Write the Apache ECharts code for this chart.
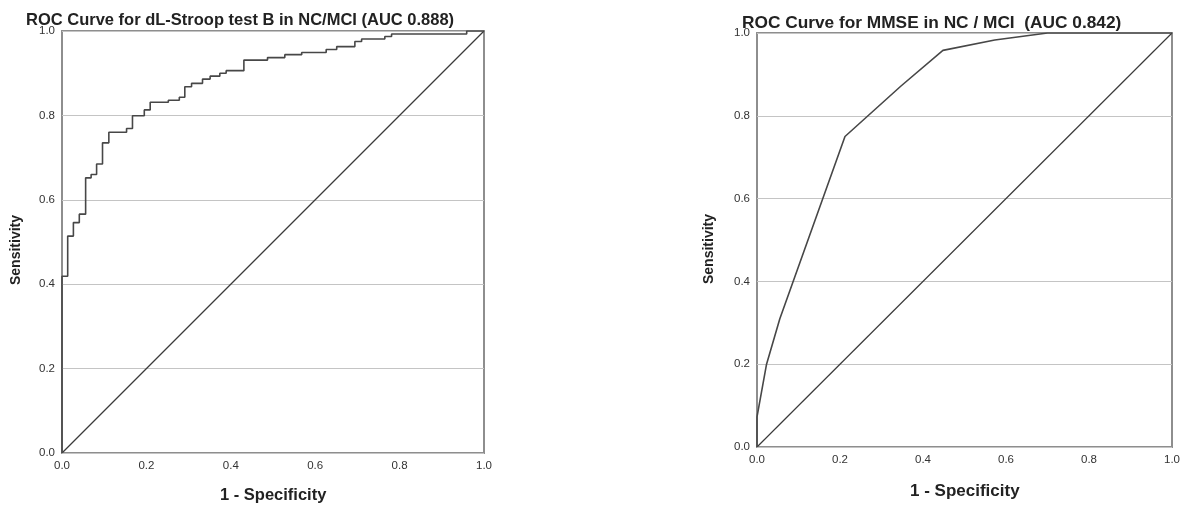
<!DOCTYPE html>
<html>
<head>
<meta charset="utf-8">
<script src="https://cdn.jsdelivr.net/npm/echarts@6/dist/echarts.min.js"></script>
<style>html,body{margin:0;padding:0;background:#fff}#c{width:1183px;height:507px}</style>
</head>
<body>
<div id="c"></div>
<script>
// Left ROC (dL-Stroop test B): step vertices (1-specificity, sensitivity after each rise)
const leftFpr = [0, 0, 0.0135, 0.027, 0.041, 0.056, 0.069, 0.082, 0.096, 0.111, 0.153, 0.167, 0.195, 0.209, 0.252, 0.278, 0.291, 0.307, 0.333, 0.351, 0.374, 0.389, 0.431, 0.487, 0.528, 0.568, 0.626, 0.651, 0.694, 0.710, 0.765, 0.781, 0.959, 1.0];
const leftTpr = [0, 0.419, 0.514, 0.546, 0.566, 0.652, 0.660, 0.685, 0.735, 0.760, 0.769, 0.799, 0.813, 0.831, 0.836, 0.843, 0.868, 0.876, 0.886, 0.893, 0.900, 0.906, 0.931, 0.937, 0.944, 0.949, 0.956, 0.963, 0.975, 0.981, 0.987, 0.993, 1.0, 1.0];
// Right ROC (MMSE)
const rightFpr = [0, 0, 0.023, 0.055, 0.212, 0.347, 0.448, 0.573, 0.700, 1.0];
const rightTpr = [0, 0.073, 0.200, 0.310, 0.750, 0.872, 0.958, 0.983, 1.0, 1.0];
const diagX = [0, 1];
const diagY = [0, 1];
const tickLabels = ['0.0', '0.2', '0.4', '0.6', '0.8', '1.0'];
const titles = ['ROC Curve for dL-Stroop test B in NC/MCI (AUC 0.888)', 'ROC Curve for MMSE in NC / MCI  (AUC 0.842)'];
const xName = '1 - Specificity';
const yName = 'Sensitivity';

function stepPoints(xs, ys) {
  const pts = [[xs[0], ys[0]]];
  for (let i = 1; i < xs.length; i++) {
    pts.push([xs[i], ys[i - 1]]);
    pts.push([xs[i], ys[i]]);
  }
  return pts;
}
function pairs(xs, ys) { return xs.map((x, i) => [x, ys[i]]); }

const FONT = 'Liberation Sans, Arial, sans-serif';
const chart = echarts.init(document.getElementById('c'), null, { renderer: 'canvas' });

function xAxis(gi) {
  return {
    gridIndex: gi, type: 'value', min: 0, max: 1, interval: 0.2,
    axisLine: { show: false }, axisTick: { show: false }, splitLine: { show: false },
    axisLabel: { color: '#333', fontSize: 11.5, fontFamily: FONT, margin: 7,
      formatter: v => tickLabels[Math.round(v * 5)] }
  };
}
function yAxis(gi) {
  return {
    gridIndex: gi, type: 'value', min: 0, max: 1, interval: 0.2,
    axisLine: { show: false }, axisTick: { show: false },
    splitLine: { show: true, lineStyle: { color: '#c4c4c4', width: 1.2 } },
    axisLabel: { color: '#333', fontSize: 11.5, fontFamily: FONT, margin: 7,
      formatter: v => tickLabels[Math.round(v * 5)] }
  };
}
const curveStyle = { color: '#474747', width: 1.6 };
const diagStyle = { color: '#3a3a3a', width: 1.2 };

chart.setOption({
  animation: false,
  backgroundColor: '#fff',
  title: [
    { text: titles[0], left: 21, top: 7, textStyle: { fontFamily: FONT, fontSize: 16.5, fontWeight: 'bold', color: '#222' } },
    { text: titles[1], left: 737, top: 10, textStyle: { fontFamily: FONT, fontSize: 17.3, fontWeight: 'bold', color: '#222' } }
  ],
  grid: [
    { left: 62, top: 31, width: 422, height: 422, show: true, borderColor: '#8e8e8e', borderWidth: 2, backgroundColor: 'transparent' },
    { left: 757, top: 33, width: 415, height: 414, show: true, borderColor: '#8e8e8e', borderWidth: 2, backgroundColor: 'transparent' }
  ],
  xAxis: [xAxis(0), xAxis(1)],
  yAxis: [yAxis(0), yAxis(1)],
  graphic: [
    { type: 'text', left: 220, top: 487, style: { text: xName, font: 'bold 16.5px ' + FONT, fill: '#222' } },
    { type: 'text', left: 910, top: 483, style: { text: xName, font: 'bold 17px ' + FONT, fill: '#222' } },
    { type: 'text', x: 9, y: 285, rotation: Math.PI / 2, style: { text: yName, font: 'bold 14px ' + FONT, fill: '#222' } },
    { type: 'text', x: 702, y: 284, rotation: Math.PI / 2, style: { text: yName, font: 'bold 14px ' + FONT, fill: '#222' } }
  ],
  series: [
    { type: 'line', xAxisIndex: 0, yAxisIndex: 0, data: pairs(diagX, diagY), showSymbol: false, lineStyle: diagStyle, silent: true },
    { type: 'line', xAxisIndex: 0, yAxisIndex: 0, data: stepPoints(leftFpr, leftTpr), showSymbol: false, lineStyle: curveStyle, silent: true },
    { type: 'line', xAxisIndex: 1, yAxisIndex: 1, data: pairs(diagX, diagY), showSymbol: false, lineStyle: diagStyle, silent: true },
    { type: 'line', xAxisIndex: 1, yAxisIndex: 1, data: pairs(rightFpr, rightTpr), showSymbol: false, lineStyle: curveStyle, silent: true }
  ]
});
</script>
</body>
</html>
